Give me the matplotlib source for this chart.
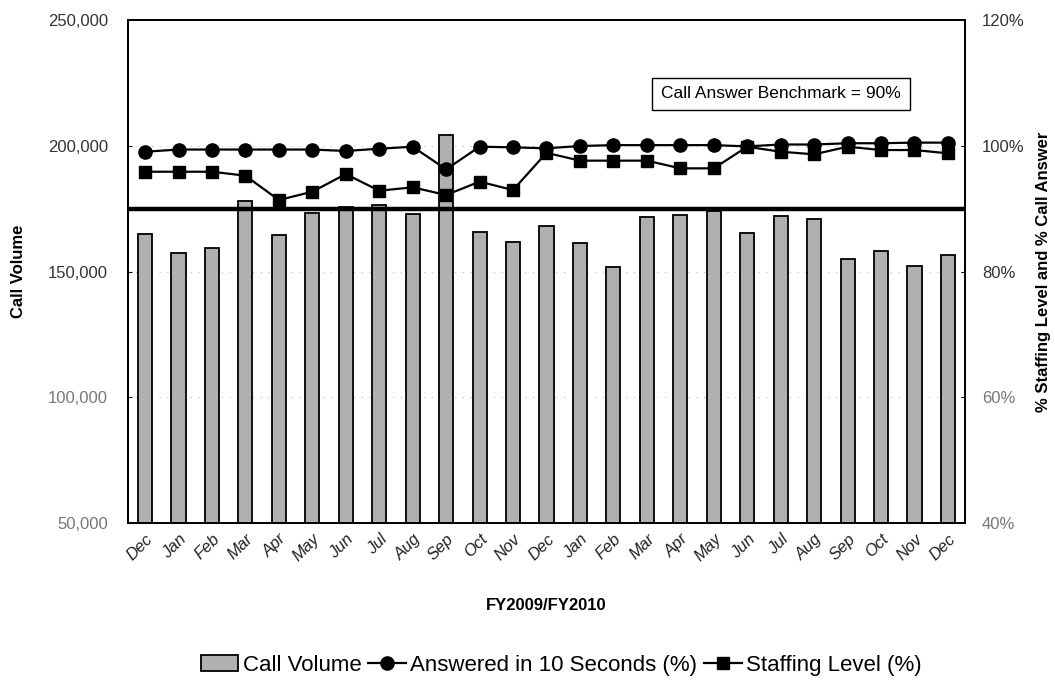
import matplotlib.pyplot as plt
import numpy as np
from matplotlib.ticker import FuncFormatter

plt.rcParams['font.family'] = ['Liberation Sans', 'DejaVu Sans']

# mois FY2009/FY2010
months = ["Dec", "Jan", "Feb", "Mar", "Apr", "May", "Jun", "Jul", "Aug", "Sep", "Oct", "Nov",
          "Dec", "Jan", "Feb", "Mar", "Apr", "May", "Jun", "Jul", "Aug", "Sep", "Oct", "Nov", "Dec"]

# volume d'appels
call_volume = [164900, 157500, 159200, 178000, 164500, 173100, 175500, 176500, 172900, 204300,
               165800, 161700, 168100, 161200, 151700, 171800, 172300, 174200, 165300, 171900,
               170900, 154900, 158300, 152300, 156700]

# répondu en 10 secondes (%)
answered = [99.05, 99.4, 99.4, 99.4, 99.4, 99.4, 99.17, 99.53, 99.85, 96.25,
            99.85, 99.75, 99.6, 99.96, 100.1, 100.1, 100.1, 100.1, 99.9, 100.2,
            100.2, 100.4, 100.4, 100.5, 100.5]

# niveau de personnel (%)
staffing = [95.87, 95.87, 95.87, 95.24, 91.37, 92.69, 95.5, 92.85, 93.39, 92.17,
            94.29, 92.96, 98.88, 97.63, 97.63, 97.63, 96.41, 96.41, 99.85, 99.05,
            98.64, 99.85, 99.32, 99.32, 98.8]

benchmark = 90

fig = plt.figure(figsize=(10.55, 6.9), dpi=100)
ax = fig.add_axes([0.121, 0.242, 0.794, 0.729])
ax2 = ax.twinx()

x = np.arange(len(months))
bars = ax.bar(x, call_volume, width=0.42, color="#b0b0b0", edgecolor="black", linewidth=1.3,
              label="Call Volume", zorder=2)
ax.set_ylim(50000, 250000)
ax.set_xlim(-0.52, len(months) - 0.48)
ax.set_yticks(range(50000, 250001, 50000))
ax.yaxis.set_major_formatter(FuncFormatter(lambda v, p: f"{int(v):,}"))
ax.set_xticks(x)
ax.set_xticklabels(months, rotation=45, ha="right", rotation_mode="anchor", fontsize=12,
                   color="#222222", style="italic")
ax.tick_params(axis="y", labelsize=12, length=3, direction="in", pad=14)
ax.tick_params(axis="x", length=0, pad=6)
ax.grid(axis="y", linestyle=(0, (1, 6)), color="#bbbbbb", linewidth=0.8, zorder=0)
ax.set_ylabel("Call Volume", fontsize=12, fontweight="bold", labelpad=16)
ax.set_xlabel("FY2009/FY2010", fontsize=12, fontweight="bold", labelpad=24)

ax2.set_ylim(40, 120)
ax2.set_yticks(range(40, 121, 20))
ax2.yaxis.set_major_formatter(FuncFormatter(lambda v, p: f"{int(v)}%"))
ax2.tick_params(axis="y", labelsize=12, length=3, direction="in", pad=12)
ax2.set_ylabel("% Staffing Level and % Call Answer", fontsize=12, fontweight="bold", labelpad=8)

# couleurs des étiquettes (scan plus clair en bas)
for lab, c in zip(ax.get_yticklabels(), ["#777777", "#777777", "#333333", "#333333", "#333333"]):
    lab.set_color(c)
for lab, c in zip(ax2.get_yticklabels(), ["#777777", "#777777", "#333333", "#333333", "#333333"]):
    lab.set_color(c)

# ligne de référence 90%
ax2.axhline(benchmark, color="black", linewidth=3.2, zorder=3)
l1, = ax2.plot(x, answered, color="black", marker="o", markersize=9.5, linewidth=1.6,
               label="Answered in 10 Seconds (%)", zorder=4)
l2, = ax2.plot(x, staffing, color="black", marker="s", markersize=8.5, linewidth=1.6,
               label="Staffing Level (%)", zorder=4)

ax2.text(0.78, 0.853, "Call Answer Benchmark = 90%", transform=ax2.transAxes, fontsize=12.5,
         ha="center", va="center",
         bbox=dict(boxstyle="square,pad=0.5", facecolor="white", edgecolor="black", linewidth=1))

for sp in ax.spines.values():
    sp.set_linewidth(1.3)
for sp in ax2.spines.values():
    sp.set_linewidth(1.3)

fig.legend([bars, l1, l2], ["Call Volume", "Answered in 10 Seconds (%)", "Staffing Level (%)"],
           loc="center", bbox_to_anchor=(0.532, 0.036), ncol=3, frameon=False, fontsize=16,
           handlelength=1.7, handletextpad=0.2, columnspacing=0.3)

fig.savefig("out.png", dpi=100)
